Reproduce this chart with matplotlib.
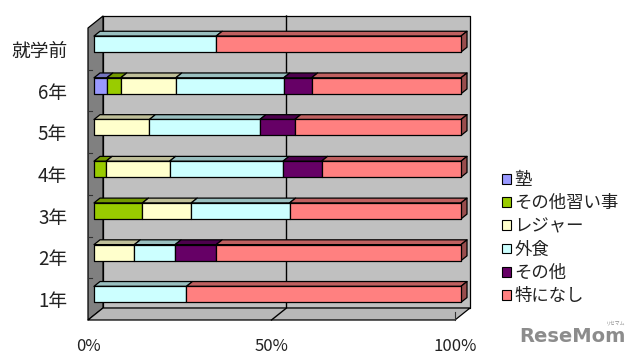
import matplotlib
matplotlib.use('Agg')
import matplotlib.pyplot as plt
from matplotlib.patches import Polygon, Patch
import matplotlib.colors as mcolors

plt.rcParams['font.family'] = ['Noto Sans CJK JP', 'DejaVu Sans']

# ---- data ----
categories = ['就学前', '6年', '5年', '4年', '3年', '2年', '1年']
series_names = ['塾', 'その他習い事', 'レジャー', '外食', 'その他', '特になし']
series_colors = ['#9999FF', '#99CC00', '#FFFFCC', '#CCFFFF', '#660066', '#FF8080']
juku = [0, 3.5, 0, 0, 0, 0, 0]
other_lessons = [0, 3.8, 0, 3.3, 13.2, 0, 0]
leisure = [0, 15.0, 15.1, 17.3, 13.3, 11.0, 0]
eating_out = [33.3, 29.4, 30.1, 30.9, 26.8, 11.1, 25.2]
other = [0, 7.6, 9.5, 10.5, 0, 11.2, 0]
nothing = [66.7, 40.7, 45.3, 38.0, 46.7, 66.7, 74.8]
series_values = [juku, other_lessons, leisure, eating_out, other, nothing]
x_ticks = [0, 50, 100]
x_tick_labels = ['0%', '50%', '100%']

# ---- figure ----
W, H = 640, 362
fig = plt.figure(figsize=(W / 100, H / 100), dpi=100)
ax = fig.add_axes([88 / W, 42 / H, 367 / W, 292 / H])
n = len(categories)
ax.set_xlim(0, 100)
ax.set_ylim(n, 0)
ax.patch.set_visible(False)
for sp in ax.spines.values():
    sp.set_visible(False)

# pseudo-3D depth offsets in data units
DX = 15 / 367 * 100
DY = 12 / 292 * n


def P(x, y, d):
    return (x + d * DX, y - d * DY)


def shade(c, f):
    r, g, b = mcolors.to_rgb(c)
    return (r * f, g * f, b * f)


def poly(pts, fc, lw=0.9, z=1):
    ax.add_patch(Polygon(pts, closed=True, facecolor=fc, edgecolor='black',
                         linewidth=lw, clip_on=False, zorder=z, joinstyle='round'))


# walls and floor
poly([P(0, 0, 1), P(100, 0, 1), P(100, n, 1), P(0, n, 1)], '#C0C0C0', z=0.5)
poly([P(0, 0, 0), P(0, 0, 1), P(0, n, 1), P(0, n, 0)], '#808080', z=0.6)
poly([P(0, n, 0), P(100, n, 0), P(100, n, 1), P(0, n, 1)], '#B8B8B8', z=0.6)
# 50% gridline (back wall + floor)
gx = [P(50, 0, 1), P(50, n, 1), P(50, n, 0)]
ax.plot([p[0] for p in gx], [p[1] for p in gx], color='black', lw=1.0,
        clip_on=False, zorder=0.7)
# small ticks on left wall at category boundaries
for k in range(1, n):
    ax.plot([0, 1.0], [k, k], color='#333333', lw=0.8, clip_on=False, zorder=0.7)
# 100% tick at floor front
ax.plot([100, 100], [n - 0.2, n], color='#333333', lw=0.8, clip_on=False, zorder=0.7)

# bars
bar_h = 0.384
d0, d1 = 0.4, 0.8
for i in range(n):
    left = 0.0
    segs = [(series_values[s][i], series_colors[s]) for s in range(len(series_names))]
    segs = [(v, c) for v, c in segs if v > 0]
    yt = i + 0.5 - bar_h / 2
    yb = i + 0.5 + bar_h / 2
    for j, (v, c) in enumerate(segs):
        r = left + v
        poly([P(left, yt, d0), P(r, yt, d0), P(r, yt, d1), P(left, yt, d1)],
             shade(c, 0.75), z=2)
        poly([P(left, yt, d0), P(r, yt, d0), P(r, yb, d0), P(left, yb, d0)], c, z=3)
        if j == len(segs) - 1:
            poly([P(r, yt, d0), P(r, yt, d1), P(r, yb, d1), P(r, yb, d0)],
                 shade(c, 0.6), z=2)
        left = r

# ticks / labels
ax.set_xticks(x_ticks)
ax.set_xticklabels(x_tick_labels)
ax.set_yticks([i + 0.5 for i in range(n)])
ax.set_yticklabels(categories)
ax.tick_params(axis='x', length=0, pad=13, labelsize=12, labelcolor='#222222')
ax.tick_params(axis='y', length=0, pad=15, labelsize=13.5, labelcolor='#222222')
for t in ax.get_yticklabels():
    t.set_y(t.get_position()[1])

# legend
handles = [Patch(facecolor=c, edgecolor='black', linewidth=0.8) for c in series_colors]
ax.legend(handles, series_names, loc='upper left',
          bbox_to_anchor=(502 / W, 1 - 171 / H), bbox_transform=fig.transFigure,
          frameon=False, fontsize=12.5, handlelength=0.5, handleheight=0.5,
          handletextpad=0.2, labelspacing=0.3, borderpad=0, borderaxespad=0,
          labelcolor='#222222')

# watermark
fig.text(572 / W, 1 - 336 / H, 'ReseMom', fontsize=14, fontweight='bold',
         color='#8C8C8C', ha='center', va='center', family='DejaVu Sans')
fig.text(616 / W, 1 - 323 / H, 'リセマム', fontsize=3.5, color='#8C8C8C',
         ha='center', va='center')

fig.savefig('out.png', dpi=100)
